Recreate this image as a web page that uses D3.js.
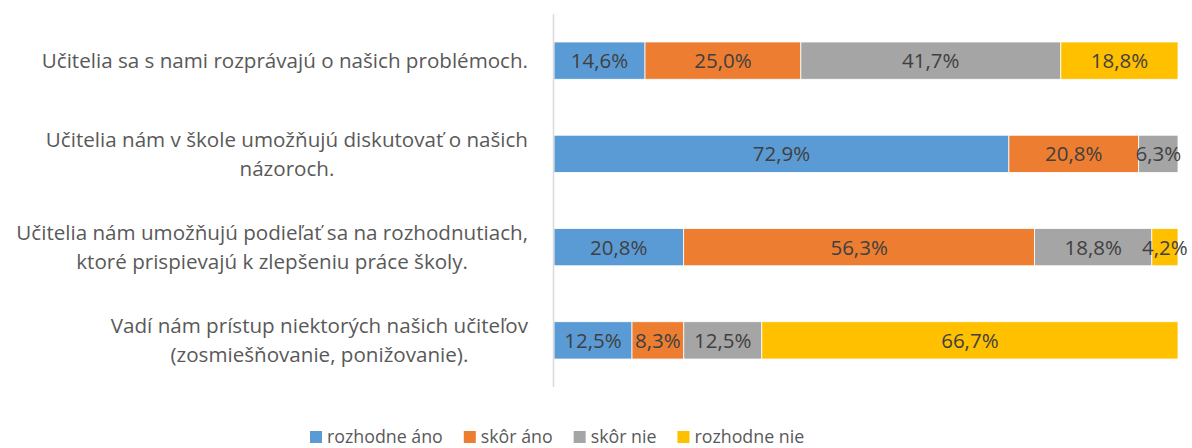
<!DOCTYPE html>
<html>
<head>
<meta charset="utf-8">
<title></title>
<script src="https://cdn.jsdelivr.net/npm/d3@7"></script>
<style>
	body { margin: 0; background: #fff; }
	text { font-family: "Open Sans", sans-serif; }
</style>
</head>
<body>
<div id="chart"></div>
<script>

// categories (top to bottom), each label split into its lines
var categories = [
	["Učitelia sa s nami rozprávajú o našich problémoch."],
	["Učitelia nám v škole umožňujú diskutovať o našich", "názoroch."],
	["Učitelia nám umožňujú podieľať sa na rozhodnutiach,", "ktoré prispievajú k zlepšeniu práce školy."],
	["Vadí nám prístup niektorých našich učiteľov", "(zosmiešňovanie, ponižovanie)."]
];

var seriesNames = ["rozhodne áno", "skôr áno", "skôr nie", "rozhodne nie"];
var seriesColors = ["#5B9BD5", "#ED7D31", "#A5A5A5", "#FFC000"];

// percent values per series, same order as categories
var rozhodneAno = [14.6, 72.9, 20.8, 12.5];
var skorAno = [25.0, 20.8, 56.3, 8.3];
var skorNie = [41.7, 6.3, 18.8, 12.5];
var rozhodneNie = [18.8, 0, 4.2, 66.7];

var seriesValues = [rozhodneAno, skorAno, skorNie, rozhodneNie];

var width = 1192, height = 448;

var svg = d3.select('#chart').append('svg')
	.attr('width', width)
	.attr('height', height);

var y = d3.scaleBand()
	.domain(d3.range(categories.length))
	.range([14, 387])
	.paddingInner(0.6)
	.paddingOuter(0.3);

var x = d3.scaleLinear()
	.domain([0, 1])
	.range([554, 1178]);

// build stacked segments (100% stacked, so each row is normalised)
var segments = [];
categories.forEach(function(c, i){
	var total = d3.sum(seriesValues, function(s){ return s[i]; });
	var acc = 0;
	seriesValues.forEach(function(s, j){
		var v = s[i];
		if (v > 0) {
			segments.push({row: i, series: j, value: v, x0: acc/total, x1: (acc+v)/total});
		}
		acc += v;
	});
});

svg.selectAll('.seg').data(segments)
	.enter().append('rect').classed('seg', true)
		.attr('x', function(d){ return x(d.x0); })
		.attr('y', function(d){ return y(d.row); })
		.attr('width', function(d){ return x(d.x1) - x(d.x0); })
		.attr('height', y.bandwidth())
		.style('fill', function(d){ return seriesColors[d.series]; })
		.style('stroke', '#fff')
		.style('stroke-width', 0.8);

svg.selectAll('.val').data(segments)
	.enter().append('text').classed('val', true)
		.attr('x', function(d){ return (x(d.x0) + x(d.x1))/2; })
		.attr('y', function(d){ return y(d.row) + y.bandwidth()/2; })
		.attr('dy', '0.36em')
		.attr('text-anchor', 'middle')
		.style('font-size', '20.5px')
		.style('fill', '#404040')
		.text(function(d){ return d.value.toFixed(1).replace('.', ',') + '%'; });

// vertical category axis line
svg.append('line')
	.attr('x1', 553.5).attr('x2', 553.5)
	.attr('y1', 14).attr('y2', 387)
	.style('stroke', '#D9D9D9')
	.style('stroke-width', 1.5);

// category labels, centred as a block, right edge at 528
var lineH = 29;
categories.forEach(function(lines, i){
	var g = svg.append('g');
	var cy = y(i) + y.bandwidth()/2;
	var texts = lines.map(function(l, k){
		return g.append('text')
			.attr('y', cy + (k - (lines.length-1)/2) * lineH)
			.attr('dy', '0.36em')
			.attr('text-anchor', 'middle')
			.style('font-size', '20.6px')
			.style('fill', '#595959')
			.text(l);
	});
	var maxW = d3.max(texts, function(t){ return t.node().getComputedTextLength(); });
	texts.forEach(function(t){ t.attr('x', 528 - maxW/2); });
});

// legend
var legend = svg.append('g');
var lx = 310;
seriesNames.forEach(function(name, j){
	var item = legend.append('g').attr('transform', 'translate(' + lx + ',437)');
	item.append('rect')
		.attr('x', 0).attr('y', -6)
		.attr('width', 12).attr('height', 12)
		.style('fill', seriesColors[j]);
	var t = item.append('text')
		.attr('x', 17)
		.attr('dy', '0.36em')
		.style('font-size', '17.8px')
		.style('fill', '#595959')
		.text(name);
	lx += 17 + t.node().getComputedTextLength() + 21;
});

</script>
</body>
</html>
